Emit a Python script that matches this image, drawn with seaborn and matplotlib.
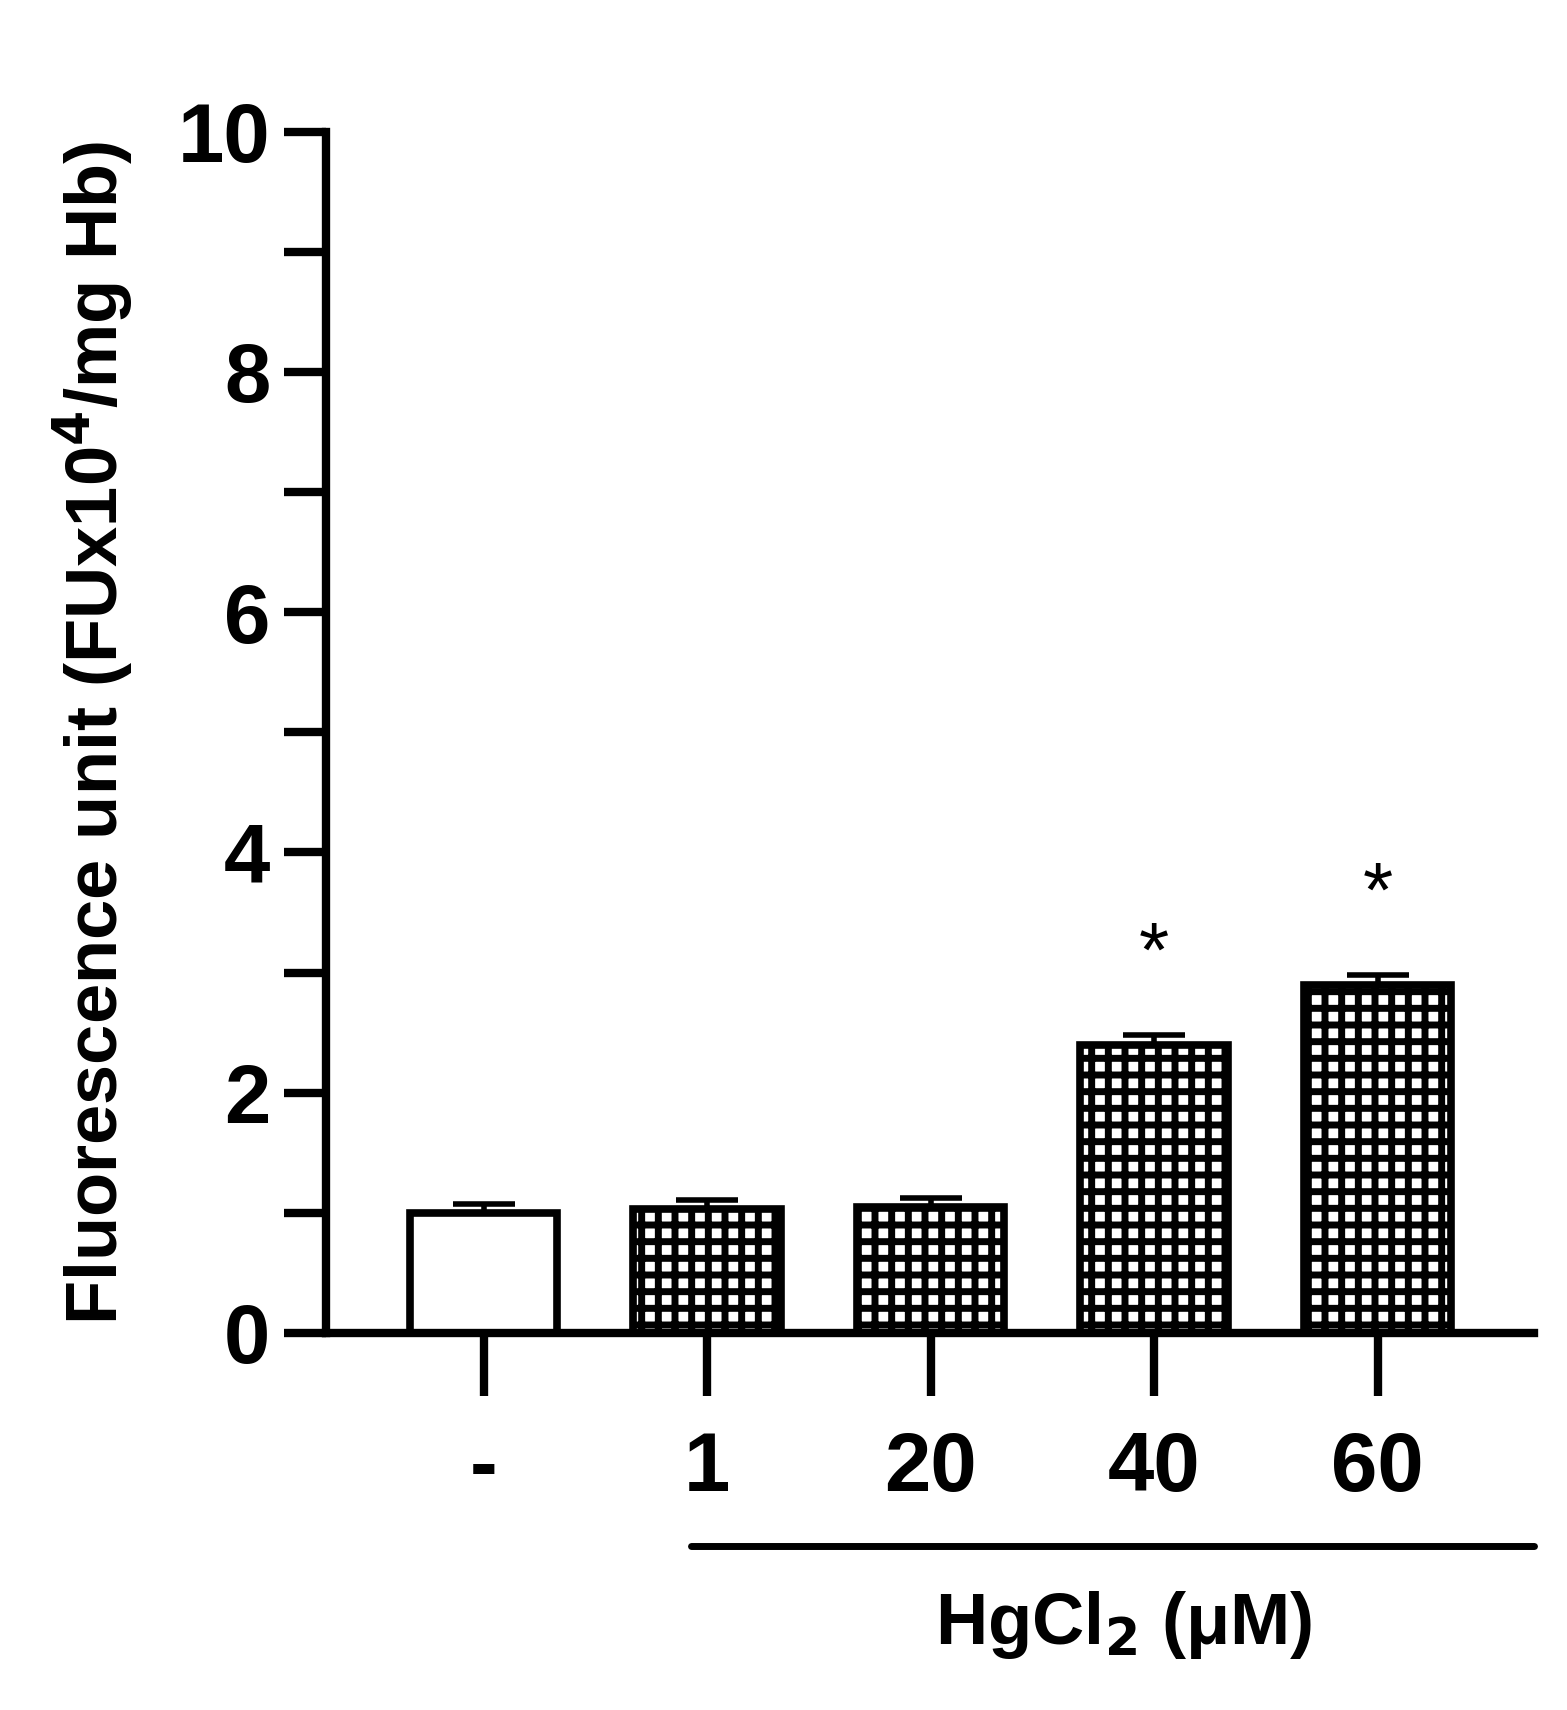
import numpy as np
import pandas as pd
import seaborn as sns
import matplotlib.pyplot as plt

# values
groups = ['-', '1', '20', '40', '60']
means = [1.0, 1.03, 1.05, 2.4, 2.9]
errs = [0.07, 0.08, 0.07, 0.08, 0.08]
stars = ['', '', '', '*', '*']

sns.set_style('ticks')
plt.rcParams['font.family'] = ['Liberation Sans', 'DejaVu Sans']
plt.rcParams['font.weight'] = 'bold'
plt.rcParams['text.color'] = 'black'
plt.rcParams['axes.labelcolor'] = 'black'
plt.rcParams['xtick.color'] = 'black'
plt.rcParams['ytick.color'] = 'black'
plt.rcParams['axes.edgecolor'] = 'black'
plt.rcParams['hatch.linewidth'] = 5
plt.rcParams['hatch.color'] = 'black'

df = pd.DataFrame({'group': groups, 'mean': means})
fig = plt.figure(figsize=(15.67, 17.1), dpi=100)
ax = fig.add_axes([0.208, 0.2205, 0.771, 0.7025])
sns.barplot(data=df, x='group', y='mean', ax=ax, width=0.66, color='white',
            edgecolor='black', linewidth=5.5)
for i, p in enumerate(ax.patches):
    if i > 0:
        p.set_hatch('+')
    ax.errorbar(i, means[i], yerr=[[0], [errs[i]]], color='black', capsize=22,
                elinewidth=4, capthick=4)
    if stars[i]:
        ax.text(i, means[i] + errs[i] + 0.35, stars[i], ha='center', va='bottom',
                fontsize=56, fontweight='normal')

ax.set_xlim(-0.705, 4.70)
ax.set_ylim(0, 10)
ax.set_yticks(range(0, 11, 2))
ax.set_yticks(range(1, 10, 2), minor=True)
ax.set_xlabel('')
ax.set_ylabel('Fluorescence unit (FUx10$^{\\mathbf{4}}$/mg Hb)', fontsize=52,
              fontweight='bold', labelpad=30)
ax.tick_params(axis='y', which='major', length=30, width=6, labelsize=60, pad=10)
ax.tick_params(axis='y', which='minor', length=30, width=6)
ax.tick_params(axis='x', length=45, width=6, labelsize=60, pad=25)
for lab in ax.get_xticklabels() + ax.get_yticklabels():
    lab.set_fontweight('bold')
sns.despine(ax=ax)
for s in ['left', 'bottom']:
    ax.spines[s].set_linewidth(6)

# treatment bracket
fig.add_artist(plt.Line2D([0.441, 0.979], [0.096, 0.096], color='black', linewidth=5))
fig.text(0.717, 0.05, 'HgCl$_\\mathbf{2}$ (μM)', ha='center', va='center',
         fontsize=52, fontweight='bold')

fig.savefig('out.png', dpi=100)
